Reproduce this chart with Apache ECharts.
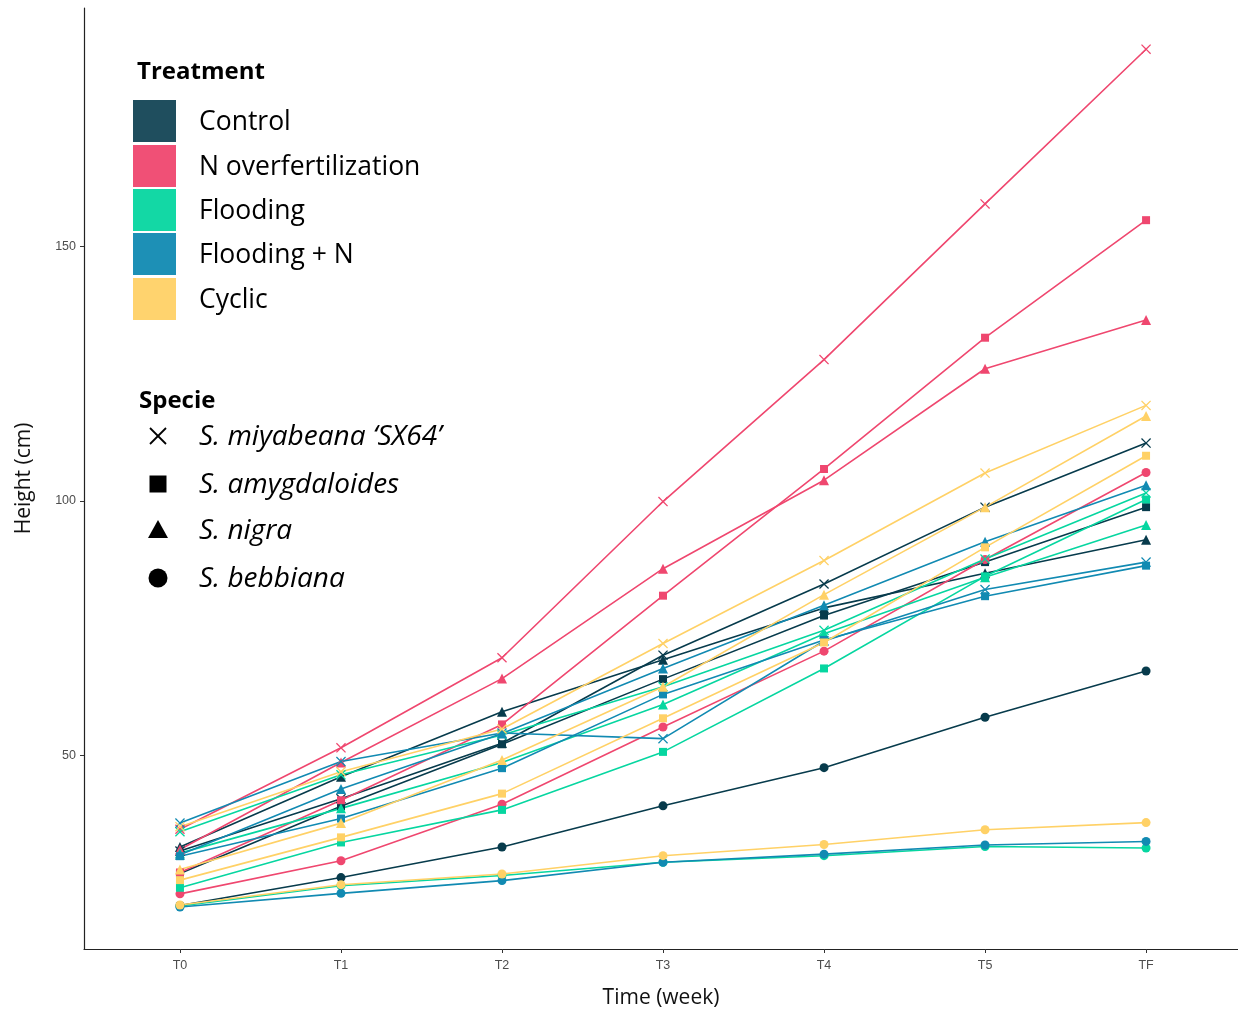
<!DOCTYPE html>
<html>
<head>
<meta charset="utf-8">
<script src="https://cdn.jsdelivr.net/npm/echarts@6/dist/echarts.min.js"></script>
<style>html,body{margin:0;padding:0;background:#fff;overflow:hidden;}#chart{width:1238px;height:1014px;}</style>
</head>
<body>
<div id="chart"></div>
<script>
const timeLabels = ['T0','T1','T2','T3','T4','T5','TF'];
const yTicks = [50, 100, 150];
const treatments = ['Control','N overfertilization','Flooding','Flooding + N','Cyclic'];
const treatmentColors = ['#073b4c','#ef476f','#06d6a0','#118ab2','#ffd166'];
const species = ['S. miyabeana \u2018SX64\u2019','S. amygdaloides','S. nigra','S. bebbiana'];

// Control
const ctrl_miy = [31.2, 41.5, 52.4, 69.7, 83.7, 98.8, 111.4];
const ctrl_amy = [26.8, 40.0, 52.2, 65.0, 77.5, 88.0, 98.8];
const ctrl_nig = [32.0, 45.8, 58.6, 68.8, 79.0, 85.8, 92.4];
const ctrl_beb = [20.5, 26.0, 32.0, 40.1, 47.6, 57.5, 66.6];
// N overfertilization
const n_miy = [35.5, 51.5, 69.2, 99.9, 127.8, 158.4, 188.8];
const n_amy = [27.0, 41.2, 56.1, 81.4, 106.3, 132.1, 155.2];
const n_nig = [31.5, 48.6, 65.1, 86.7, 104.1, 126.0, 135.6];
const n_beb = [22.8, 29.3, 40.4, 55.6, 70.5, 88.5, 105.6];
// Flooding
const f_miy = [35.0, 46.2, 54.0, 63.5, 74.6, 88.6, 101.6];
const f_amy = [24.0, 32.9, 39.3, 50.7, 67.1, 85.2, 100.3];
const f_nig = [30.8, 39.6, 48.6, 60.0, 73.9, 85.0, 95.3];
const f_beb = [20.4, 24.4, 26.4, 29.0, 30.3, 32.1, 31.8];
// Flooding + N
const fn_miy = [36.7, 48.8, 54.4, 53.3, 72.5, 82.6, 88.0];
const fn_amy = [30.2, 37.6, 47.5, 62.0, 72.7, 81.3, 87.3];
const fn_nig = [30.5, 43.4, 54.3, 67.1, 79.5, 92.0, 103.1];
const fn_beb = [20.2, 22.9, 25.4, 29.0, 30.6, 32.4, 33.1];
// Cyclic
const c_miy = [36.0, 46.8, 55.2, 72.0, 88.3, 105.5, 118.8];
const c_amy = [25.5, 33.9, 42.5, 57.3, 72.2, 90.9, 108.9];
const c_nig = [27.6, 36.7, 49.1, 63.5, 81.6, 98.8, 116.7];
const c_beb = [20.6, 24.6, 26.7, 30.3, 32.5, 35.4, 36.8];

const seriesTable = [
  [ctrl_miy, ctrl_amy, ctrl_nig, ctrl_beb],
  [n_miy, n_amy, n_nig, n_beb],
  [f_miy, f_amy, f_nig, f_beb],
  [fn_miy, fn_amy, fn_nig, fn_beb],
  [c_miy, c_amy, c_nig, c_beb]
];

const crossPath = 'path://M0,0.9L0.9,0L5,4.1L9.1,0L10,0.9L5.9,5L10,9.1L9.1,10L5,5.9L0.9,10L0,9.1L4.1,5Z';
const speciesSymbols = [crossPath, 'rect', 'triangle', 'circle'];
const speciesSizes = [10, 8, 10, 9];

const series = [];
seriesTable.forEach((group, ti) => {
  group.forEach((vals, si) => {
    series.push({
      name: treatments[ti] + ' / ' + species[si],
      type: 'line',
      data: vals.map((v, i) => [i, v]),
      symbol: speciesSymbols[si],
      symbolSize: speciesSizes[si],
      showAllSymbol: true,
      lineStyle: { color: treatmentColors[ti], width: 1.6 },
      itemStyle: { color: treatmentColors[ti] },
      emphasis: { disabled: true },
      silent: true,
      animation: false,
      z: 2
    });
  });
});

// Legend drawn as graphic
const graphics = [];
const legFont = '"Open Sans", "Noto Sans", sans-serif';
graphics.push({ type: 'text', x: 137, y: 72, style: { text: 'Treatment', font: 'bold 24px ' + legFont, fill: '#000', textVerticalAlign: 'middle' } });
const sqTops = [100, 145, 189, 233, 278];
treatments.forEach((t, i) => {
  graphics.push({ type: 'rect', shape: { x: 133, y: sqTops[i], width: 43, height: 42 }, style: { fill: treatmentColors[i], opacity: i === 0 ? 0.9 : 0.95 } });
  graphics.push({ type: 'text', x: 199, y: sqTops[i] + 22, style: { text: t, font: '26.5px ' + legFont, fill: '#000', textVerticalAlign: 'middle' } });
});
graphics.push({ type: 'text', x: 139, y: 401, style: { text: 'Specie', font: 'bold 24px ' + legFont, fill: '#000', textVerticalAlign: 'middle' } });
const spY = [436, 484, 530, 578];
const cx = 158;
graphics.push({ type: 'line', shape: { x1: cx - 8, y1: spY[0] - 8, x2: cx + 8, y2: spY[0] + 8 }, style: { stroke: '#000', lineWidth: 1.8 } });
graphics.push({ type: 'line', shape: { x1: cx - 8, y1: spY[0] + 8, x2: cx + 8, y2: spY[0] - 8 }, style: { stroke: '#000', lineWidth: 1.8 } });
graphics.push({ type: 'rect', shape: { x: cx - 8.5, y: spY[1] - 8.5, width: 17, height: 17 }, style: { fill: '#000' } });
graphics.push({ type: 'polygon', shape: { points: [[cx, spY[2] - 10], [cx + 10, spY[2] + 8], [cx - 10, spY[2] + 8]] }, style: { fill: '#000' } });
graphics.push({ type: 'circle', shape: { cx: cx, cy: spY[3], r: 9.5 }, style: { fill: '#000' } });
species.forEach((s, i) => {
  graphics.push({ type: 'text', x: 199, y: spY[i] + 1, style: { text: s, font: 'italic 28px ' + legFont, fill: '#000', textVerticalAlign: 'middle' } });
});

const chart = echarts.init(document.getElementById('chart'), null, { renderer: 'canvas', width: 1238, height: 1014 });
chart.setOption({
  animation: false,
  backgroundColor: '#fff',
  grid: { left: 84, width: 1154, top: 8, height: 943, containLabel: false },
  xAxis: {
    type: 'value',
    min: -0.596,
    max: 6.571,
    name: 'Time (week)',
    nameLocation: 'middle',
    nameGap: 39,
    nameTextStyle: { fontSize: 21, color: '#111', fontFamily: legFont },
    axisLine: { show: true, onZero: false, lineStyle: { color: '#222', width: 1.2 } },
    axisTick: { show: true, length: 4, lineStyle: { color: '#333' }, customValues: timeLabels.map((t, i) => i) },
    axisLabel: { customValues: timeLabels.map((t, i) => i), formatter: v => timeLabels[Math.round(v)], color: '#4d4d4d', fontSize: 12.5, margin: 10, fontFamily: 'Liberation Sans, Arial, sans-serif' },
    splitLine: { show: false }
  },
  yAxis: {
    type: 'value',
    min: 11.96,
    max: 196.9,
    name: 'Height (cm)',
    nameLocation: 'middle',
    nameGap: 49,
    nameRotate: 90,
    nameTextStyle: { fontSize: 21, color: '#111', fontFamily: legFont },
    axisLine: { show: true, onZero: false, lineStyle: { color: '#222', width: 1.2 } },
    axisTick: { show: true, length: 4, lineStyle: { color: '#333' }, customValues: yTicks },
    axisLabel: { customValues: yTicks, color: '#4d4d4d', fontSize: 12.5, margin: 8, fontFamily: 'Liberation Sans, Arial, sans-serif' },
    splitLine: { show: false }
  },
  graphic: graphics,
  series: series
});
</script>
</body>
</html>
